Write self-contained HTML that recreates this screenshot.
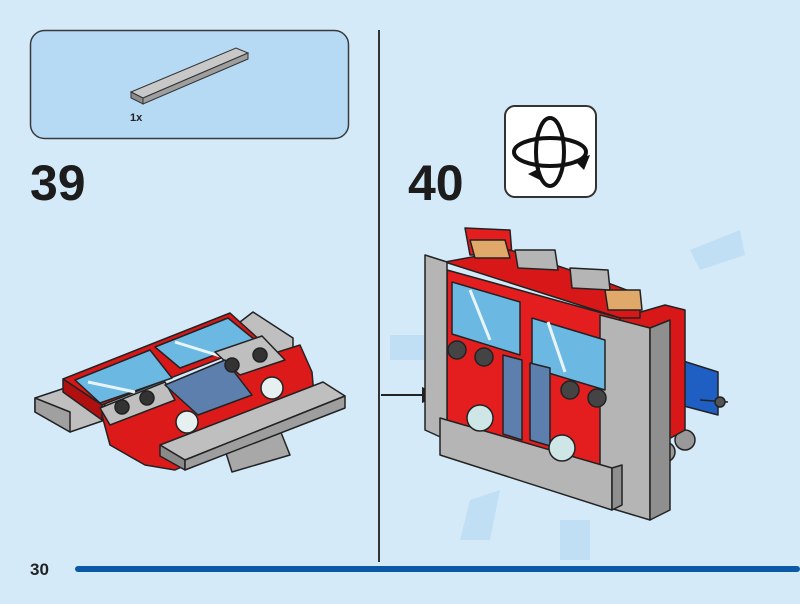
<!DOCTYPE html>
<html><head><meta charset="utf-8"><style>
html,body{margin:0;padding:0;background:#d5eaf9;}
body{width:800px;height:604px;position:relative;overflow:hidden;font-family:"Liberation Sans",sans-serif;}
</style></head><body>
<svg width="800" height="604" viewBox="0 0 800 604" xmlns="http://www.w3.org/2000/svg" style="position:absolute;left:0;top:0">
<rect width="800" height="604" fill="#d5eaf9"/>
<!-- parts box -->
<rect x="30.5" y="30.5" width="318" height="108" rx="14" fill="#b6d9f4" stroke="#3a3a3a" stroke-width="1.5"/>
<polygon points="131,92 236,48 248,53 143,98" fill="#c8c8c8" stroke="#333" stroke-width="1"/>
<polygon points="131,92 143,98 143,104 131,98" fill="#8c8c8c" stroke="#333" stroke-width="1"/>
<polygon points="143,98 248,53 248,59 143,104" fill="#9e9e9e" stroke="#333" stroke-width="1"/>
<text x="130" y="121" font-size="11" font-weight="bold" fill="#222">1x</text>
<!-- divider -->
<line x1="379" y1="30" x2="379" y2="562" stroke="#333" stroke-width="2"/>
<!-- footer -->
<rect x="75" y="566" width="725" height="6" fill="#0b5aa8" rx="3"/>
<text x="30" y="575" font-size="17" font-weight="bold" fill="#222">30</text>
<!-- step numbers -->
<text x="30" y="200" font-size="50" font-weight="bold" fill="#1c1c1c">39</text>
<text x="408" y="200" font-size="50" font-weight="bold" fill="#1c1c1c">40</text>
<!-- rotate icon -->
<rect x="505" y="106" width="91" height="91" rx="10" fill="#fff" stroke="#333" stroke-width="2"/>
<ellipse cx="550" cy="152" rx="36" ry="14" fill="none" stroke="#111" stroke-width="4"/>
<ellipse cx="550" cy="152" rx="14" ry="34" fill="none" stroke="#111" stroke-width="4"/>
<polygon points="574,160 590,155 584,170" fill="#111"/>
<polygon points="540,180 528,174 540,168" fill="#111"/>
<!-- step 39 model -->
<g stroke="#222" stroke-width="1.5" stroke-linejoin="round">
<polygon points="35,398 65,388 105,405 105,420 70,432 35,412" fill="#bfbfbf"/>
<polygon points="35,398 70,412 70,432 35,412" fill="#a0a0a0"/>
<polygon points="240,322 253,312 293,338 293,354 272,360" fill="#bfbfbf"/>
<polygon points="100,408 300,345 312,372 315,408 175,470 145,465 110,445" fill="#dd1a1a"/>
<polygon points="63,379 230,313 262,342 102,405" fill="#d81818"/>
<polygon points="63,379 102,405 102,420 63,392" fill="#b01010"/>
<polygon points="75,380 150,350 172,378 100,403" fill="#6bb8e2"/>
<polygon points="155,347 228,318 255,340 180,368" fill="#6bb8e2"/>
<line x1="88" y1="382" x2="135" y2="392" stroke="#e8f4fb" stroke-width="3"/>
<line x1="175" y1="342" x2="220" y2="356" stroke="#e8f4fb" stroke-width="3"/>
<polygon points="100,408 165,382 175,400 110,425" fill="#bfbfbf"/>
<polygon points="215,352 262,336 285,360 240,375" fill="#bfbfbf"/>
<polygon points="165,385 225,360 252,395 198,415" fill="#5d7fae"/>
<circle cx="122" cy="407" r="7" fill="#333"/><circle cx="147" cy="398" r="7" fill="#333"/>
<circle cx="232" cy="365" r="7" fill="#333"/><circle cx="260" cy="355" r="7" fill="#333"/>
<circle cx="187" cy="422" r="11" fill="#e6f0f0"/><circle cx="272" cy="388" r="11" fill="#e6f0f0"/>
<polygon points="225,450 280,430 290,455 232,472" fill="#a8a8a8"/>
<polygon points="160,445 323,382 345,396 185,460" fill="#bfbfbf"/>
<polygon points="160,445 185,460 185,470 160,456" fill="#8a8a8a"/>
<polygon points="185,460 345,396 345,408 185,470" fill="#9e9e9e"/>
</g>
<!-- glow rays -->
<g fill="#bcdcf3" opacity="0.8">
<polygon points="390,335 430,335 430,360 390,360"/>
<polygon points="690,250 740,230 745,255 700,270"/>
<polygon points="470,500 500,490 490,540 460,540"/>
<polygon points="560,520 590,520 590,560 560,560"/>
</g>
<!-- arrow -->
<line x1="381" y1="395" x2="425" y2="395" stroke="#222" stroke-width="2"/>
<polygon points="442,395 422,387 422,403" fill="#222"/>
<!-- truck -->
<g stroke="#222" stroke-width="1.5" stroke-linejoin="round">
<polygon points="680,360 718,372 718,415 680,405" fill="#1f5fc4"/>
<line x1="700" y1="400" x2="728" y2="402"/>
<circle cx="720" cy="402" r="5" fill="#555"/>
<circle cx="685" cy="440" r="10" fill="#999"/>
<circle cx="665" cy="452" r="10" fill="#999"/>
<polygon points="620,318 665,305 685,310 685,430 640,455 620,470" fill="#d81818"/>
<polygon points="465,228 510,230 512,255 470,255" fill="#e41e1e"/>
<polygon points="445,262 510,250 600,280 640,295 640,318 620,318" fill="#d81818"/>
<polygon points="447,270 620,318 620,480 447,432" fill="#e41e1e"/>
<polygon points="425,255 447,262 447,440 425,430" fill="#b5b5b5"/>
<polygon points="600,315 650,328 650,520 600,505" fill="#b5b5b5"/>
<polygon points="650,328 670,320 670,510 650,520" fill="#8f8f8f"/>
<polygon points="452,282 520,302 520,355 452,334" fill="#6bb8e2"/>
<polygon points="532,318 605,340 605,390 532,368" fill="#6bb8e2"/>
<line x1="470" y1="290" x2="490" y2="340" stroke="#e8f4fb" stroke-width="3"/>
<line x1="548" y1="322" x2="565" y2="372" stroke="#e8f4fb" stroke-width="3"/>
<polygon points="503,355 522,360 522,440 503,434" fill="#5d7fae"/>
<polygon points="530,363 550,368 550,446 530,440" fill="#5d7fae"/>
<circle cx="457" cy="350" r="9" fill="#444"/><circle cx="484" cy="357" r="9" fill="#444"/>
<circle cx="570" cy="390" r="9" fill="#444"/><circle cx="597" cy="398" r="9" fill="#444"/>
<polygon points="440,418 612,468 612,510 440,455" fill="#b5b5b5"/>
<polygon points="612,468 622,465 622,505 612,510" fill="#8f8f8f"/>
<circle cx="480" cy="418" r="13" fill="#cfe6e6"/>
<circle cx="562" cy="448" r="13" fill="#cfe6e6"/>
<polygon points="470,240 505,240 510,258 475,258" fill="#e0a96a"/>
<polygon points="605,290 640,290 642,310 608,310" fill="#e0a96a"/>
<polygon points="515,250 555,250 558,270 518,268" fill="#b5b5b5"/>
<polygon points="570,268 608,270 610,290 572,288" fill="#b5b5b5"/>
</g>
</svg>
</body></html>
